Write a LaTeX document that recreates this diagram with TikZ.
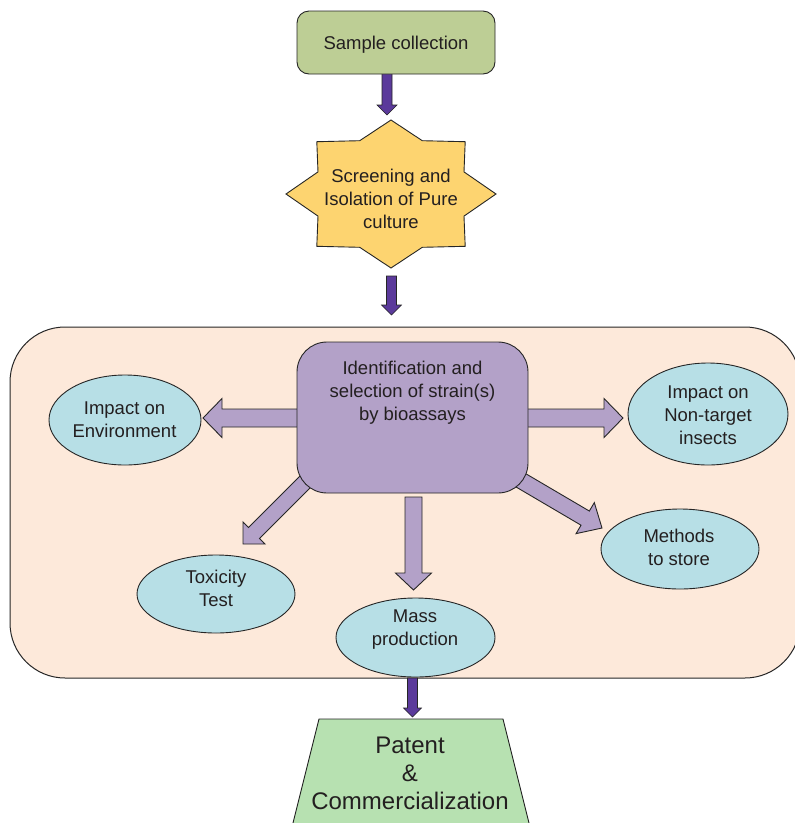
\documentclass[tikz,border=0pt]{standalone}
\usepackage{fontspec}
\setmainfont{Liberation Sans}
\usetikzlibrary{calc,shapes.geometric}
\definecolor{ink}{HTML}{231F20}
\definecolor{edge}{HTML}{262626}
\definecolor{sgreen}{HTML}{BDCE95}
\definecolor{syellow}{HTML}{FDD470}
\definecolor{peach}{HTML}{FDE9DA}
\definecolor{lpurple}{HTML}{B3A1C8}
\definecolor{eblue}{HTML}{B7DFE6}
\definecolor{dpurple}{HTML}{5B3A9B}
\definecolor{tgreen}{HTML}{B7E1B1}
% block arrow: #1 style, #2 start, #3 tip, #4 shaft half width, #5 head half width, #6 head length
\newcommand\myblockarrow[6]{%
  \coordinate (ba-hb) at ($(#3)!#6!(#2)$);
  \draw[#1] ($(#2)!#4!90:(#3)$) -- ($(ba-hb)!#4!-90:(#2)$) -- ($(ba-hb)!#5!-90:(#2)$)
    -- (#3) -- ($(ba-hb)!#5!90:(#2)$) -- ($(ba-hb)!#4!90:(#2)$) -- ($(#2)!#4!-90:(#3)$) -- cycle;
}
\begin{document}
\begin{tikzpicture}[x=1pt,y=-1pt,
  txt/.style={font=\fontsize{18.5}{23}\selectfont, text=ink, align=center, inner sep=0pt},
  ell/.style={ellipse, draw=edge, line width=0.9pt, fill=eblue, inner sep=0pt},
  darr/.style={draw=edge, line width=0.6pt, fill=dpurple},
  larr/.style={draw=edge, line width=0.9pt, fill=lpurple},
  ]
\useasboundingbox (0,0) rectangle (795,823);

% dark arrow 1
\coordinate (a1s) at (387,70);
\coordinate (a1e) at (387,115);
\myblockarrow{darr}{a1s}{a1e}{5pt}{10pt}{10pt}

% sample collection
\node[draw=edge, line width=0.9pt, fill=sgreen, rounded corners=12pt,
  minimum width=198pt, minimum height=63pt] (sample) at (396,42.5) {};
\node[txt] (sampletxt) at (396,45) {Sample collection};

% star
\begin{scope}[shift={(391,194)}]
\draw[draw=edge, line width=0.9pt, fill=syellow]
  (105,0) -- (73,22.1) -- (74.2,52.3) -- (31.3,53.3) -- (0,74) -- (-31.3,53.3)
  -- (-74.2,52.3) -- (-73,22.1) -- (-105,0) -- (-73,-22.1) -- (-74.2,-52.3)
  -- (-31.3,-53.3) -- (0,-74) -- (31.3,-53.3) -- (74.2,-52.3) -- (73,-22.1) -- cycle;
\end{scope}
\node[txt] (screen) at (391,199) {Screening and\\Isolation of Pure\\culture};

% dark arrow 2
\coordinate (a2s) at (391.5,276);
\coordinate (a2e) at (391.5,315);
\myblockarrow{darr}{a2s}{a2e}{5pt}{10pt}{10pt}

% panel
\node[draw=edge, line width=1pt, fill=peach, rounded corners=55pt,
  minimum width=790pt, minimum height=351pt] (panel) at (405,502.5) {};

% light purple arrows (under the box)
\coordinate (lls) at (310,418);
\coordinate (lle) at (203,418);
\myblockarrow{larr}{lls}{lle}{9pt}{19.5pt}{19pt}
\coordinate (rrs) at (515,418);
\coordinate (rre) at (623,418);
\myblockarrow{larr}{rrs}{rre}{9pt}{19.5pt}{19pt}
\coordinate (dls) at (313.7,473.3);
\coordinate (dle) at (243,544);
\myblockarrow{larr}{dls}{dle}{7.8pt}{15.6pt}{15.6pt}
\coordinate (drs) at (511.5,474.8);
\coordinate (dre) at (602,528);
\myblockarrow{larr}{drs}{dre}{8.2pt}{18pt}{19.5pt}

% identification box
\node[draw=edge, line width=0.9pt, fill=lpurple, rounded corners=30pt,
  minimum width=231pt, minimum height=151pt] (ident) at (412.5,417.5) {};
\node[txt] (identtxt) at (412.5,393) {Identification and\\selection of strain(s)\\by bioassays};

% down arrow
\coordinate (dds) at (413.5,497);
\coordinate (dde) at (413.5,590);
\myblockarrow{larr}{dds}{dde}{8.5pt}{18pt}{17pt}

% ellipses
\node[ell, minimum width=152pt, minimum height=90pt] (env) at (125,420) {};
\node[txt] (envtxt) at (124.5,420) {Impact on\\Environment};
\node[ell, minimum width=160pt, minimum height=102pt] (nontarget) at (708,414) {};
\node[txt] (nontargettxt) at (708,415) {Impact on\\Non-target\\insects};
\node[ell, minimum width=158pt, minimum height=80pt] (store) at (680,549) {};
\node[txt] (storetxt) at (679,547) {Methods\\to store};
\node[ell, minimum width=158pt, minimum height=78pt] (tox) at (216,594) {};
\node[txt] (toxtxt) at (216,588) {Toxicity\\Test};
\node[ell, minimum width=159pt, minimum height=79pt] (mass) at (415.5,637.5) {};
\node[txt] (masstxt) at (415,630) {Mass\\production};

% dark arrow 3
\coordinate (a3s) at (412.5,678);
\coordinate (a3e) at (412.5,717);
\myblockarrow{darr}{a3s}{a3e}{5pt}{9pt}{9pt}

% trapezoid
\draw[draw=edge, line width=0.9pt, fill=tgreen] (319,719) -- (503,719) -- (531,831) -- (291,831) -- cycle;
\node[txt, font=\fontsize{24}{28}\selectfont] (patent) at (410,773) {Patent\\\&\\Commercialization};
\end{tikzpicture}
\end{document}
